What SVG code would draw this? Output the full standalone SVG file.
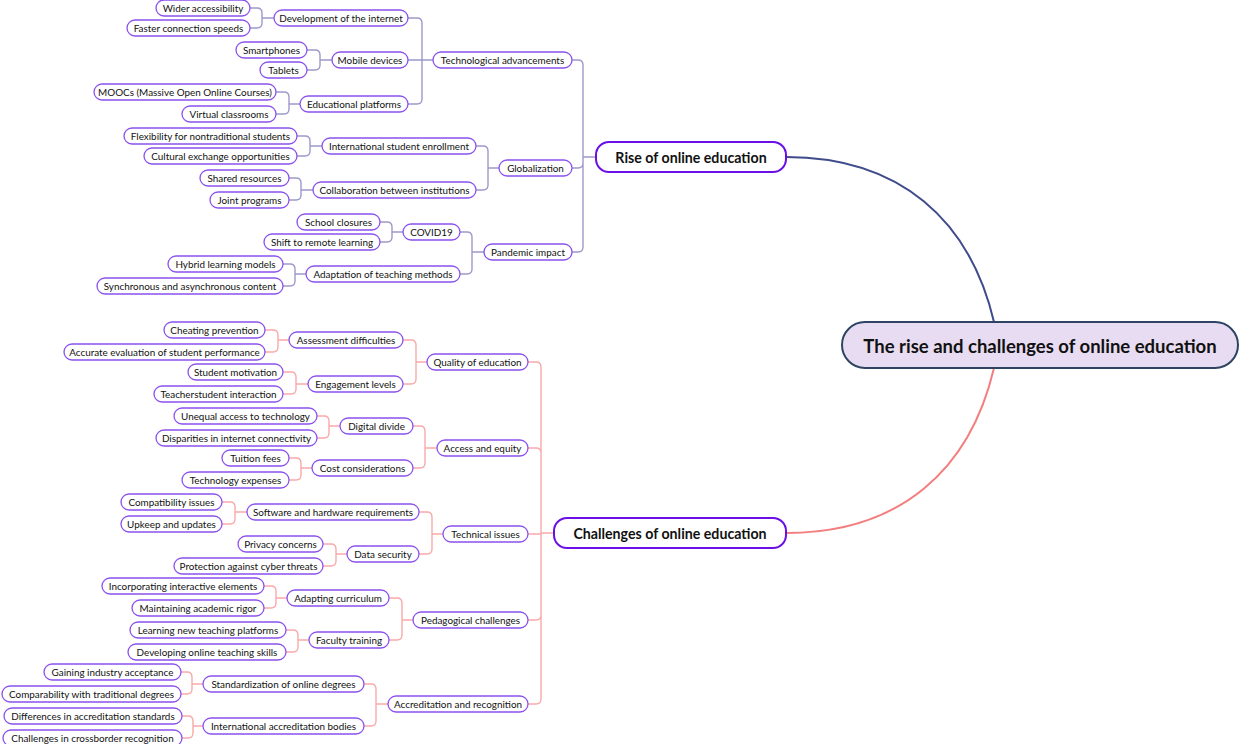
<svg xmlns="http://www.w3.org/2000/svg" width="1240" height="744" viewBox="0 0 1240 744">
<style>
.bg{fill:#ffffff}
.n rect{fill:#ffffff;stroke:#8a52ee;stroke-width:1.3}
.n text{font-family:Lato,"Liberation Sans",sans-serif;font-size:9.9px;fill:#111;text-anchor:middle;dominant-baseline:central}
.m rect{fill:#ffffff;stroke:#6a0fe6;stroke-width:2}
.m text{font-family:Lato,"Liberation Sans",sans-serif;font-size:14.2px;font-weight:bold;fill:#111;text-anchor:middle;dominant-baseline:central}
.r rect{fill:#e8dcf2;stroke:#2e4462;stroke-width:2}
.r text{font-family:Lato,"Liberation Sans",sans-serif;font-size:18.5px;font-weight:bold;fill:#111;text-anchor:middle;dominant-baseline:central}
.cb{fill:none;stroke:#9d99cc;stroke-width:1.4}
.cr{fill:none;stroke:#f9a9a9;stroke-width:1.4}
</style>
<rect class="bg" x="0" y="0" width="1240" height="744"/>
<g id="connectors">
<path d="M786,157 C900,157 970,220 994,322" fill="none" stroke="#3f4b8b" stroke-width="2"/>
<path d="M786,533 C900,533 970,470 994,368" fill="none" stroke="#f47e7e" stroke-width="2"/>
<g class="cb">
<path d="M572,60 H578 Q583,60 583,65 V157 M572,168 H578 Q583,168 583,163 V157 M572,252 H578 Q583,252 583,247 V157 M583,157 H596"/>
<path d="M408,18 H417 Q422,18 422,23 V60 M408,60 H433 M408,104 H417 Q422,104 422,99 V60"/>
<path d="M250,8 H257 Q262,8 262,13 V18 M250,28 H257 Q262,28 262,23 V18 M262,18 H274"/>
<path d="M307,50 H315 Q320,50 320,55 V60 M307,70 H315 Q320,70 320,65 V60 M320,60 H332"/>
<path d="M276,92 H284 Q289,92 289,97 V104 M276,114 H284 Q289,114 289,109 V104 M289,104 H300"/>
<path d="M476,146 H483 Q488,146 488,151 V168 M476,190 H483 Q488,190 488,185 V168 M488,168 H499"/>
<path d="M297,136 H305 Q310,136 310,141 V146 M297,156 H305 Q310,156 310,151 V146 M310,146 H322"/>
<path d="M289,178 H296 Q301,178 301,183 V190 M289,200 H296 Q301,200 301,195 V190 M301,190 H313"/>
<path d="M460,232 H467 Q472,232 472,237 V252 M460,274 H467 Q472,274 472,269 V252 M472,252 H484"/>
<path d="M380,222 H387 Q392,222 392,227 V232 M380,242 H387 Q392,242 392,237 V232 M392,232 H403"/>
<path d="M283,264 H290 Q295,264 295,269 V274 M283,286 H290 Q295,286 295,281 V274 M295,274 H306"/>
</g>
<g class="cr">
<path d="M528,362 H536 Q541,362 541,367 V533 M528,448 H536 Q541,448 541,453 V533 M528,534 H541 M528,620 H536 Q541,620 541,615 V533 M528,704 H536 Q541,704 541,699 V533 M541,533 H554"/>
<path d="M403,340 H411 Q416,340 416,345 V362 M403,384 H411 Q416,384 416,379 V362 M416,362 H427"/>
<path d="M265,330 H273 Q278,330 278,335 V340 M265,352 H273 Q278,352 278,347 V340 M278,340 H289"/>
<path d="M283,372 H291 Q296,372 296,377 V384 M283,394 H291 Q296,394 296,389 V384 M296,384 H308"/>
<path d="M413,426 H420 Q425,426 425,431 V448 M413,468 H420 Q425,468 425,463 V448 M425,448 H437"/>
<path d="M317,416 H324 Q329,416 329,421 V426 M317,438 H324 Q329,438 329,433 V426 M329,426 H340"/>
<path d="M289,458 H296 Q301,458 301,463 V468 M289,480 H296 Q301,480 301,475 V468 M301,468 H312"/>
<path d="M419,512 H427 Q432,512 432,517 V534 M419,554 H427 Q432,554 432,549 V534 M432,534 H443"/>
<path d="M222,502 H230 Q235,502 235,507 V512 M222,524 H230 Q235,524 235,519 V512 M235,512 H247"/>
<path d="M323,544 H331 Q336,544 336,549 V554 M323,566 H331 Q336,566 336,561 V554 M336,554 H347"/>
<path d="M389,598 H397 Q402,598 402,603 V620 M389,640 H397 Q402,640 402,635 V620 M402,620 H413"/>
<path d="M264,586 H271 Q276,586 276,591 V598 M264,608 H271 Q276,608 276,603 V598 M276,598 H287"/>
<path d="M286,630 H293 Q298,630 298,635 V640 M286,652 H293 Q298,652 298,647 V640 M298,640 H309"/>
<path d="M364,684 H371 Q376,684 376,689 V704 M364,726 H371 Q376,726 376,721 V704 M376,704 H388"/>
<path d="M181,672 H187 Q192,672 192,677 V684 M181,694 H187 Q192,694 192,689 V684 M192,684 H203"/>
<path d="M182,716 H188 Q193,716 193,721 V726 M182,738 H188 Q193,738 193,733 V726 M193,726 H203"/>
</g>
</g>
<g id="root" class="r"><rect x="842" y="322" width="396" height="46" rx="23"/><text x="1040" y="346">The rise and challenges of online education</text></g>
<g id="rise" class="m"><rect x="596" y="142" width="190" height="30" rx="13"/><text x="691" y="157">Rise of online education</text></g>
<g id="challenges" class="m"><rect x="554" y="518" width="232" height="30" rx="13"/><text x="670" y="533">Challenges of online education</text></g>

<g id="tech" class="n"><rect x="433" y="52" width="139" height="16" rx="8"/><text x="502.5" y="60">Technological advancements</text></g>
<g id="glob" class="n"><rect x="499" y="160" width="73" height="16" rx="8"/><text x="535.5" y="168">Globalization</text></g>
<g id="pand" class="n"><rect x="484" y="244" width="88" height="16" rx="8"/><text x="528" y="252">Pandemic impact</text></g>
<g id="devnet" class="n"><rect x="274" y="10" width="134" height="16" rx="8"/><text x="341" y="18">Development of the internet</text></g>
<g id="mobile" class="n"><rect x="332" y="52" width="76" height="16" rx="8"/><text x="370" y="60">Mobile devices</text></g>
<g id="eduplat" class="n"><rect x="300" y="96" width="108" height="16" rx="8"/><text x="354" y="104">Educational platforms</text></g>
<g id="wider" class="n"><rect x="156" y="0" width="94" height="16" rx="8"/><text x="203" y="8">Wider accessibility</text></g>
<g id="faster" class="n"><rect x="127" y="20" width="123" height="16" rx="8"/><text x="188.5" y="28">Faster connection speeds</text></g>
<g id="smart" class="n"><rect x="236" y="42" width="71" height="16" rx="8"/><text x="271.5" y="50">Smartphones</text></g>
<g id="tablets" class="n"><rect x="260" y="62" width="47" height="16" rx="8"/><text x="283.5" y="70">Tablets</text></g>
<g id="moocs" class="n"><rect x="94" y="84" width="182" height="16" rx="8"/><text x="185" y="92">MOOCs (Massive Open Online Courses)</text></g>
<g id="virtual" class="n"><rect x="182" y="106" width="94" height="16" rx="8"/><text x="229" y="114">Virtual classrooms</text></g>
<g id="intlenr" class="n"><rect x="322" y="138" width="154" height="16" rx="8"/><text x="399" y="146">International student enrollment</text></g>
<g id="collab" class="n"><rect x="313" y="182" width="163" height="16" rx="8"/><text x="394.5" y="190">Collaboration between institutions</text></g>
<g id="flex" class="n"><rect x="124" y="128" width="173" height="16" rx="8"/><text x="210.5" y="136">Flexibility for nontraditional students</text></g>
<g id="cultural" class="n"><rect x="144" y="148" width="153" height="16" rx="8"/><text x="220.5" y="156">Cultural exchange opportunities</text></g>
<g id="shared" class="n"><rect x="200" y="170" width="89" height="16" rx="8"/><text x="244.5" y="178">Shared resources</text></g>
<g id="joint" class="n"><rect x="210" y="192" width="79" height="16" rx="8"/><text x="249.5" y="200">Joint programs</text></g>
<g id="covid" class="n"><rect x="403" y="224" width="57" height="16" rx="8"/><text x="431.5" y="232">COVID19</text></g>
<g id="adapt" class="n"><rect x="306" y="266" width="154" height="16" rx="8"/><text x="383" y="274">Adaptation of teaching methods</text></g>
<g id="school" class="n"><rect x="297" y="214" width="83" height="16" rx="8"/><text x="338.5" y="222">School closures</text></g>
<g id="shift" class="n"><rect x="264" y="234" width="116" height="16" rx="8"/><text x="322" y="242">Shift to remote learning</text></g>
<g id="hybrid" class="n"><rect x="168" y="256" width="115" height="16" rx="8"/><text x="225.5" y="264">Hybrid learning models</text></g>
<g id="sync" class="n"><rect x="97" y="278" width="186" height="16" rx="8"/><text x="190" y="286">Synchronous and asynchronous content</text></g>

<g id="quality" class="n"><rect x="427" y="354" width="101" height="16" rx="8"/><text x="477.5" y="362">Quality of education</text></g>
<g id="access" class="n"><rect x="437" y="440" width="91" height="16" rx="8"/><text x="482.5" y="448">Access and equity</text></g>
<g id="technical" class="n"><rect x="443" y="526" width="85" height="16" rx="8"/><text x="485.5" y="534">Technical issues</text></g>
<g id="pedag" class="n"><rect x="413" y="612" width="115" height="16" rx="8"/><text x="470.5" y="620">Pedagogical challenges</text></g>
<g id="accred" class="n"><rect x="388" y="696" width="140" height="16" rx="8"/><text x="458" y="704">Accreditation and recognition</text></g>
<g id="assess" class="n"><rect x="289" y="332" width="114" height="16" rx="8"/><text x="346" y="340">Assessment difficulties</text></g>
<g id="engage" class="n"><rect x="308" y="376" width="95" height="16" rx="8"/><text x="355.5" y="384">Engagement levels</text></g>
<g id="cheat" class="n"><rect x="164" y="322" width="101" height="16" rx="8"/><text x="214.5" y="330">Cheating prevention</text></g>
<g id="accurate" class="n"><rect x="64" y="344" width="201" height="16" rx="8"/><text x="164.5" y="352">Accurate evaluation of student performance</text></g>
<g id="motiv" class="n"><rect x="188" y="364" width="95" height="16" rx="8"/><text x="235.5" y="372">Student motivation</text></g>
<g id="teachstu" class="n"><rect x="154" y="386" width="129" height="16" rx="8"/><text x="218.5" y="394">Teacherstudent interaction</text></g>
<g id="digital" class="n"><rect x="340" y="418" width="73" height="16" rx="8"/><text x="376.5" y="426">Digital divide</text></g>
<g id="cost" class="n"><rect x="312" y="460" width="101" height="16" rx="8"/><text x="362.5" y="468">Cost considerations</text></g>
<g id="unequal" class="n"><rect x="174" y="408" width="143" height="16" rx="8"/><text x="245.5" y="416">Unequal access to technology</text></g>
<g id="dispar" class="n"><rect x="156" y="430" width="161" height="16" rx="8"/><text x="236.5" y="438">Disparities in internet connectivity</text></g>
<g id="tuition" class="n"><rect x="222" y="450" width="67" height="16" rx="8"/><text x="255.5" y="458">Tuition fees</text></g>
<g id="techexp" class="n"><rect x="182" y="472" width="107" height="16" rx="8"/><text x="235.5" y="480">Technology expenses</text></g>
<g id="software" class="n"><rect x="247" y="504" width="172" height="16" rx="8"/><text x="333" y="512">Software and hardware requirements</text></g>
<g id="datasec" class="n"><rect x="347" y="546" width="72" height="16" rx="8"/><text x="383" y="554">Data security</text></g>
<g id="compat" class="n"><rect x="121" y="494" width="101" height="16" rx="8"/><text x="171.5" y="502">Compatibility issues</text></g>
<g id="upkeep" class="n"><rect x="121" y="516" width="101" height="16" rx="8"/><text x="171.5" y="524">Upkeep and updates</text></g>
<g id="privacy" class="n"><rect x="238" y="536" width="85" height="16" rx="8"/><text x="280.5" y="544">Privacy concerns</text></g>
<g id="protect" class="n"><rect x="174" y="558" width="149" height="16" rx="8"/><text x="248.5" y="566">Protection against cyber threats</text></g>
<g id="adaptcur" class="n"><rect x="287" y="590" width="102" height="16" rx="8"/><text x="338" y="598">Adapting curriculum</text></g>
<g id="faculty" class="n"><rect x="309" y="632" width="80" height="16" rx="8"/><text x="349" y="640">Faculty training</text></g>
<g id="incorp" class="n"><rect x="102" y="578" width="162" height="16" rx="8"/><text x="183" y="586">Incorporating interactive elements</text></g>
<g id="maint" class="n"><rect x="132" y="600" width="132" height="16" rx="8"/><text x="198" y="608">Maintaining academic rigor</text></g>
<g id="learnplat" class="n"><rect x="130" y="622" width="156" height="16" rx="8"/><text x="208" y="630">Learning new teaching platforms</text></g>
<g id="devskill" class="n"><rect x="128" y="644" width="158" height="16" rx="8"/><text x="207" y="652">Developing online teaching skills</text></g>
<g id="standard" class="n"><rect x="203" y="676" width="161" height="16" rx="8"/><text x="283.5" y="684">Standardization of online degrees</text></g>
<g id="intlacc" class="n"><rect x="203" y="718" width="161" height="16" rx="8"/><text x="283.5" y="726">International accreditation bodies</text></g>
<g id="gaining" class="n"><rect x="44" y="664" width="137" height="16" rx="8"/><text x="112.5" y="672">Gaining industry acceptance</text></g>
<g id="compar" class="n"><rect x="2" y="686" width="179" height="16" rx="8"/><text x="91.5" y="694">Comparability with traditional degrees</text></g>
<g id="differ" class="n"><rect x="4" y="708" width="178" height="16" rx="8"/><text x="93" y="716">Differences in accreditation standards</text></g>
<g id="crossb" class="n"><rect x="3" y="730" width="179" height="16" rx="8"/><text x="92.5" y="738">Challenges in crossborder recognition</text></g>
</svg>
